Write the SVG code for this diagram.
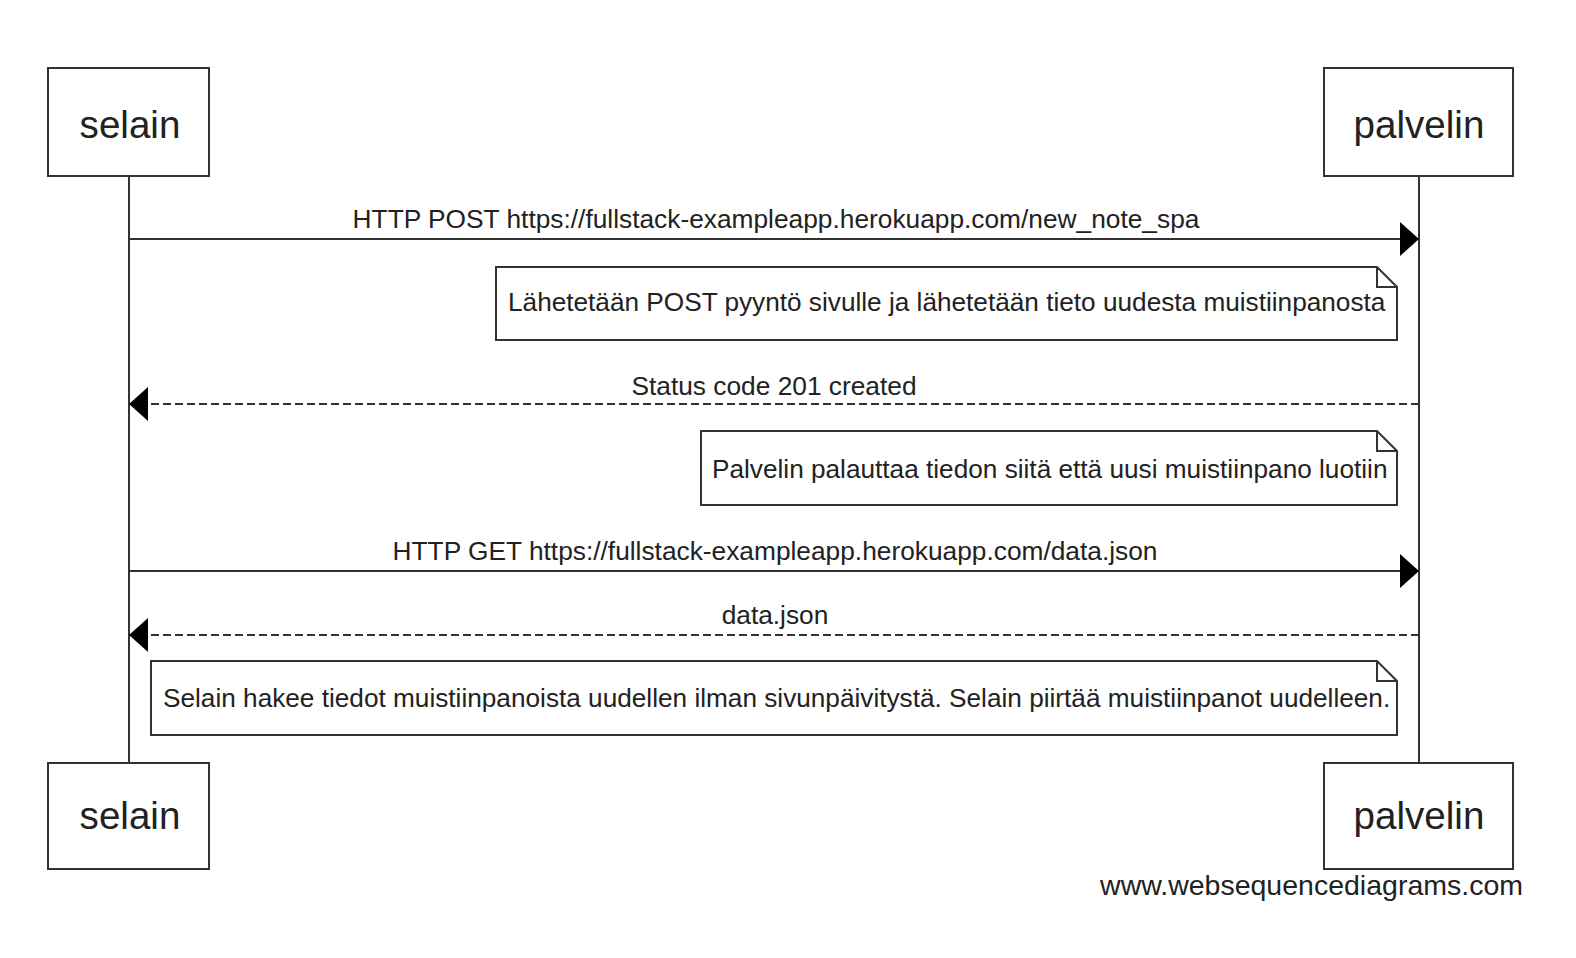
<svg xmlns="http://www.w3.org/2000/svg" width="1576" height="958" viewBox="0 0 1576 958">
<style>
.box{fill:#fff;stroke:#333;stroke-width:2}
.life{stroke:#333;stroke-width:2;fill:none}
.msg{stroke:#333;stroke-width:2;fill:none}
.dash{stroke-dasharray:8 4}
.head{fill:#000;stroke:none}
.actor{font-family:"Liberation Sans",Arial,sans-serif;font-size:38.6px;fill:#222;text-anchor:middle}
.lbl{font-family:"Liberation Sans",Arial,sans-serif;font-size:26.3px;fill:#222;text-anchor:middle}
.note{font-family:"Liberation Sans",Arial,sans-serif;font-size:26.2px;fill:#222}
.wm{font-family:"Liberation Sans",Arial,sans-serif;font-size:28.5px;fill:#222;text-anchor:end}
</style>
<rect width="1576" height="958" fill="#fff"/>
<g id="lifelines">
<line class="life" x1="129" y1="176" x2="129" y2="763"/>
<line class="life" x1="1419" y1="176" x2="1419" y2="763"/>
</g>
<g id="selain-top"><rect class="box" x="48" y="68" width="161" height="108"/><text class="actor" x="130" y="138">selain</text></g>
<g id="palvelin-top"><rect class="box" x="1324" y="68" width="189" height="108"/><text class="actor" x="1419" y="138">palvelin</text></g>
<g id="selain-bottom"><rect class="box" x="48" y="763" width="161" height="106"/><text class="actor" x="130" y="829">selain</text></g>
<g id="palvelin-bottom"><rect class="box" x="1324" y="763" width="189" height="106"/><text class="actor" x="1419" y="829">palvelin</text></g>
<g id="connectors">
<line class="msg" x1="129" y1="239" x2="1401" y2="239"/>
<path class="head" d="M1419,239 L1400,222 L1400,256 Z"/>
<text class="lbl" x="776" y="228">HTTP POST https://fullstack-exampleapp.herokuapp.com/new_note_spa</text>
<line class="msg dash" x1="1419" y1="404" x2="147" y2="404"/>
<path class="head" d="M129,404 L148,387 L148,421 Z"/>
<text class="lbl" x="774" y="395">Status code 201 created</text>
<line class="msg" x1="129" y1="571" x2="1401" y2="571"/>
<path class="head" d="M1419,571 L1400,554 L1400,588 Z"/>
<text class="lbl" x="775" y="560">HTTP GET https://fullstack-exampleapp.herokuapp.com/data.json</text>
<line class="msg dash" x1="1419" y1="635" x2="147" y2="635"/>
<path class="head" d="M129,635 L148,618 L148,652 Z"/>
<text class="lbl" x="775" y="624">data.json</text>
</g>
<g id="note1"><path class="box" d="M496,267 H1377 L1397,287 V340 H496 Z M1377,267 V287 H1397"/><text class="note" x="508" y="311">Lähetetään POST pyyntö sivulle ja lähetetään tieto uudesta muistiinpanosta</text></g>
<g id="note2"><path class="box" d="M701,431 H1377 L1397,451 V505 H701 Z M1377,431 V451 H1397"/><text class="note" x="712" y="478">Palvelin palauttaa tiedon siitä että uusi muistiinpano luotiin</text></g>
<g id="note3"><path class="box" d="M151,661 H1377 L1397,681 V735 H151 Z M1377,661 V681 H1397"/><text class="note" x="163" y="707">Selain hakee tiedot muistiinpanoista uudellen ilman sivunpäivitystä. Selain piirtää muistiinpanot uudelleen.</text></g>
<text class="wm" x="1523" y="895">www.websequencediagrams.com</text>
</svg>
